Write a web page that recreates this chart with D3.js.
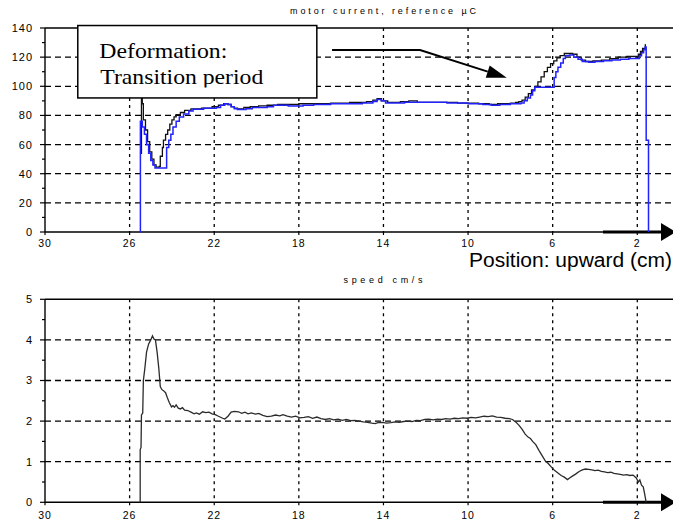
<!DOCTYPE html>
<html><head><meta charset="utf-8">
<script src="https://cdn.jsdelivr.net/npm/d3@7"></script>
<style>html,body{margin:0;padding:0;background:#fff;}svg{display:block;}</style>
</head><body>
<svg id="c" width="673" height="523"></svg>
<script>
// ---------- data ----------
const xTicks = [30, 26, 22, 18, 14, 10, 6, 2];
const topYTicks = [0, 20, 40, 60, 80, 100, 120, 140];
const botYTicks = [0, 1, 2, 3, 4, 5];
const topTitle = "motor current, reference µC";
const botTitle = "speed cm/s";
const axisLabel = "Position: upward (cm)";
const noteLines = ["Deformation:", "Transition period"];

// black trace (motor current)
const blackPos = [25.47,25.44,25.40,25.35,25.25,25.15,25.05,24.95,24.85,24.75,24.60,24.55,24.45,24.40,24.30,24.20,24.10,24.00,23.90,23.80,23.60,23.40,23.10,22.60,22.10,21.80,21.55,21.35,21.20,21.05,20.90,20.60,20.30,19.90,19.50,19.00,18.40,18.00,17.20,16.50,15.60,14.80,14.50,14.30,14.10,13.80,13.20,12.80,12.40,11.50,10.50,9.50,9.00,8.60,8.00,7.75,7.60,7.45,7.30,7.15,7.00,6.85,6.70,6.55,6.40,6.25,6.10,5.95,5.80,5.65,5.45,5.05,4.85,4.65,4.45,4.10,3.70,3.30,2.90,2.50,2.10,1.95,1.85,1.75,1.62,1.60];
const blackVal = [54,98,88,77,70,62,55,50,46,44.5,45,52,58,63,67,70,74,77,79,80.5,82,83.5,84.5,85,86,87,88,87.5,86,85,84.5,85.5,86,86.5,87,87.5,87.5,88,88,88.5,89,89.5,90.5,91.5,90,89,89.5,90,89,89,88.5,88,87.5,88,88.5,89,89.5,90.5,92.5,95,97.5,100,103,106.5,110,113,115.5,117.5,119.5,121,122.5,122,120,118,117,117.5,118,119,120,120.5,120.5,122,124,126,128.5,128.5];

// blue trace (reference)
const bluePos = [25.50,25.49,25.40,25.30,25.20,25.10,25.00,24.90,24.80,24.33,24.25,24.15,24.05,23.95,23.80,23.65,23.45,23.20,23.00,22.50,21.90,21.70,21.50,21.35,21.20,21.05,20.90,20.50,20.20,19.50,19.20,18.50,17.80,17.30,16.50,15.50,15.00,14.50,14.30,14.10,13.90,13.00,12.00,11.00,10.00,9.30,8.90,8.50,8.00,7.70,7.50,7.35,7.20,7.05,6.95,6.85,5.93,5.85,5.75,5.62,5.50,5.40,5.20,5.00,4.80,4.60,4.30,4.00,3.60,3.20,2.80,2.40,2.05,1.90,1.80,1.70,1.63,1.58,1.47];
const blueVal = [0,76,72,67,60,54,49,46,44,44,58,63,67,72,76,79,81,83,84.3,85,85.5,87,88,87.5,86,84.5,84,84.5,85.5,86,87,86.5,87,87.5,88,88,88.5,89.5,91,90,88.5,89,89,88.5,88,87.5,87,87.5,88,88,88.5,90,92,94,97,99.3,106,110,113,116,119,121,121.5,120,118.5,117,116.5,117,117.5,118,118.5,119,119,121,123,125,127,63,0];

// speed trace
const speedPos = [25.50,25.50,25.46,25.44,25.38,25.35,25.28,25.20,25.10,25.00,24.92,24.85,24.78,24.70,24.62,24.55,24.48,24.40,24.30,24.22,24.12,24.02,23.95,23.88,23.80,23.70,23.60,23.50,23.40,23.25,23.10,22.95,22.85,22.70,22.55,22.40,22.25,22.10,21.95,21.80,21.60,21.50,21.35,21.20,21.05,20.85,20.70,20.55,20.40,20.25,20.05,19.90,19.70,19.50,19.30,19.10,18.90,18.75,18.55,18.35,18.15,17.95,17.75,17.55,17.35,17.15,16.95,16.75,16.55,16.35,16.15,15.95,15.75,15.55,15.35,15.15,14.95,14.75,14.55,14.40,14.25,14.05,13.85,13.65,13.45,13.25,13.05,12.85,12.65,12.45,12.25,12.05,11.85,11.65,11.45,11.25,11.05,10.85,10.65,10.45,10.25,10.05,9.85,9.65,9.45,9.25,9.05,8.85,8.65,8.45,8.25,8.05,7.90,7.75,7.60,7.45,7.30,7.15,7.05,6.95,6.80,6.65,6.50,6.35,6.20,6.05,5.90,5.75,5.60,5.45,5.30,5.20,5.05,4.90,4.75,4.60,4.45,4.30,4.15,4.00,3.85,3.70,3.55,3.40,3.25,3.10,2.95,2.80,2.65,2.50,2.35,2.20,2.05,1.95,1.88,1.80,1.72,1.65,1.58];
const speedVal = [0,1.3,1.35,2.15,2.2,3.0,3.3,3.7,3.9,4.0,4.1,4.02,4.0,3.7,3.3,2.85,2.78,2.75,2.7,2.58,2.45,2.35,2.38,2.34,2.4,2.32,2.3,2.33,2.27,2.26,2.22,2.18,2.2,2.17,2.23,2.21,2.22,2.18,2.16,2.12,2.07,2.05,2.12,2.22,2.24,2.23,2.19,2.22,2.18,2.2,2.17,2.19,2.14,2.11,2.12,2.15,2.13,2.16,2.12,2.1,2.12,2.08,2.09,2.11,2.07,2.1,2.06,2.04,2.06,2.03,2.05,2.02,2.04,2.01,2.02,2.0,1.98,1.97,1.95,1.94,1.96,1.97,1.95,1.96,1.98,1.97,1.99,2.0,1.99,2.02,2.01,2.04,2.05,2.03,2.05,2.04,2.06,2.05,2.07,2.06,2.08,2.07,2.09,2.08,2.1,2.12,2.11,2.13,2.1,2.09,2.07,2.06,2.04,1.98,1.9,1.8,1.68,1.6,1.57,1.5,1.42,1.28,1.15,1.02,0.95,0.86,0.78,0.72,0.66,0.62,0.56,0.6,0.65,0.7,0.76,0.8,0.82,0.81,0.8,0.78,0.79,0.76,0.75,0.73,0.74,0.71,0.7,0.69,0.67,0.68,0.66,0.67,0.6,0.5,0.55,0.42,0.38,0.2,0];

// ---------- drawing ----------
const svg = d3.select("#c");
const W = 673;
const x = d3.scaleLinear().domain([30, 0]).range([45, 679.6]);
const yTop = d3.scaleLinear().domain([0, 140]).range([232, 28]);
const yBot = d3.scaleLinear().domain([0, 5]).range([502.3, 299.3]);
const tickFont = "'Liberation Sans', Arial, sans-serif";

function panel(y, yTicks, minorStep, titleText, titleY, titleLen, labelY) {
  const g = svg.append("g");
  const [y0, y1] = y.range();
  const ymax = y.domain()[1];
  g.selectAll(".hg").data(yTicks.filter(v => v > 0 && v < ymax)).join("line")
    .attr("x1", x(30)).attr("x2", W).attr("y1", d => y(d)).attr("y2", d => y(d))
    .attr("stroke", "#000").attr("stroke-width", 1.3).attr("stroke-dasharray", "6,4");
  g.selectAll(".vg").data(xTicks.filter(v => v !== 30)).join("line")
    .attr("x1", d => x(d)).attr("x2", d => x(d)).attr("y1", y1).attr("y2", y0)
    .attr("stroke", "#000").attr("stroke-width", 1.3).attr("stroke-dasharray", "3,4");
  g.append("line").attr("x1", x(30)).attr("x2", W).attr("y1", y1).attr("y2", y1).attr("stroke", "#000").attr("stroke-width", 1.4);
  g.append("line").attr("x1", x(30)).attr("x2", W).attr("y1", y0).attr("y2", y0).attr("stroke", "#000").attr("stroke-width", 1.4);
  g.append("line").attr("x1", x(30)).attr("x2", x(30)).attr("y1", y1).attr("y2", y0).attr("stroke", "#000").attr("stroke-width", 1.4);
  g.selectAll(".yt").data(yTicks).join("line")
    .attr("x1", x(30) - 5).attr("x2", x(30)).attr("y1", d => y(d)).attr("y2", d => y(d))
    .attr("stroke", "#000").attr("stroke-width", 1.2);
  const minors = d3.range(minorStep, ymax, minorStep * 2);
  g.selectAll(".ym").data(minors).join("line")
    .attr("x1", x(30) - 3).attr("x2", x(30)).attr("y1", d => y(d)).attr("y2", d => y(d))
    .attr("stroke", "#000").attr("stroke-width", 1.2);
  g.selectAll(".yl").data(yTicks).join("text")
    .attr("x", 33).attr("y", d => y(d)).attr("dy", "0.36em")
    .attr("text-anchor", "end").attr("font-family", tickFont).attr("font-size", 11)
    .attr("letter-spacing", "1px").text(d => d);
  g.selectAll(".xt").data(xTicks).join("line")
    .attr("x1", d => x(d)).attr("x2", d => x(d)).attr("y1", y0).attr("y2", y0 + 3)
    .attr("stroke", "#000").attr("stroke-width", 1.2);
  g.selectAll(".xl").data(xTicks).join("text")
    .attr("x", d => x(d)).attr("y", labelY)
    .attr("text-anchor", "middle").attr("font-family", tickFont).attr("font-size", 10.5)
    .attr("letter-spacing", "1px").text(d => d);
  g.append("text").attr("x", 383).attr("y", titleY).attr("text-anchor", "middle")
    .attr("font-family", tickFont).attr("font-size", 9)
    .attr("textLength", titleLen).attr("lengthAdjust", "spacing").text(titleText);
  g.append("line").attr("x1", 603).attr("x2", 664).attr("y1", y0).attr("y2", y0)
    .attr("stroke", "#000").attr("stroke-width", 3);
  g.append("path").attr("d", `M661,${y0 - 9}L676,${y0}L661,${y0 + 9}Z`).attr("fill", "#000");
  return g;
}

panel(yTop, topYTicks, 10, topTitle, 13.5, 186, 247);
panel(yBot, botYTicks, 0.5, botTitle, 283, 79, 518.5);

const lineTop = d3.line().x(d => x(d[0])).y(d => yTop(d[1])).curve(d3.curveStepAfter);
svg.append("path").datum(d3.zip(blackPos, blackVal)).attr("d", lineTop)
  .attr("fill", "none").attr("stroke", "#111").attr("stroke-width", 1.3);
svg.append("path").datum(d3.zip(bluePos, blueVal)).attr("d", lineTop)
  .attr("fill", "none").attr("stroke", "#2222ff").attr("stroke-width", 1.5);

const lineBot = d3.line().x(d => x(d[0])).y(d => yBot(d[1]));
svg.append("path").datum(d3.zip(speedPos, speedVal)).attr("d", lineBot)
  .attr("fill", "none").attr("stroke", "#2b2b2b").attr("stroke-width", 1.3);

svg.append("text").attr("x", 469).attr("y", 267)
  .attr("font-family", tickFont).attr("font-size", 19.5)
  .attr("textLength", 203).attr("lengthAdjust", "spacingAndGlyphs").text(axisLabel);

const bx0 = x(28.45), bx1 = x(17.15), by0 = yTop(141.7), by1 = yTop(92);
svg.append("rect").attr("x", bx0).attr("y", by0).attr("width", bx1 - bx0).attr("height", by1 - by0)
  .attr("fill", "#fff").attr("stroke", "#000").attr("stroke-width", 1.5);
svg.append("clipPath").attr("id", "noteclip").append("rect")
  .attr("x", bx0).attr("y", by0).attr("width", bx1 - bx0).attr("height", 62);
const ng = svg.append("g").attr("clip-path", "url(#noteclip)");
ng.append("text").attr("x", bx0 + 21.5).attr("y", by0 + 32)
  .attr("font-family", "'Liberation Serif','Times New Roman',serif").attr("font-size", 22)
  .attr("textLength", 128).attr("lengthAdjust", "spacingAndGlyphs").text(noteLines[0]);
ng.append("text").attr("x", bx0 + 22.5).attr("y", by0 + 58)
  .attr("font-family", "'Liberation Serif','Times New Roman',serif").attr("font-size", 22)
  .attr("textLength", 163).attr("lengthAdjust", "spacingAndGlyphs").text(noteLines[1]);

const p0 = [x(16.43), yTop(124.9)], p1 = [x(12.27), yTop(124.9)], tip = [x(8.17), yTop(105.9)];
const ang = Math.atan2(tip[1] - p1[1], tip[0] - p1[0]);
const L = 20, H = 6.5;
const base = [tip[0] - L * Math.cos(ang), tip[1] - L * Math.sin(ang)];
svg.append("path").attr("d", `M${p0[0]},${p0[1]}L${p1[0]},${p1[1]}L${base[0]},${base[1]}`)
  .attr("fill", "none").attr("stroke", "#000").attr("stroke-width", 2);
svg.append("path").attr("d",
  `M${tip[0]},${tip[1]}L${base[0] - H * Math.sin(ang)},${base[1] + H * Math.cos(ang)}L${base[0] + H * Math.sin(ang)},${base[1] - H * Math.cos(ang)}Z`)
  .attr("fill", "#000");
</script>
</body></html>
